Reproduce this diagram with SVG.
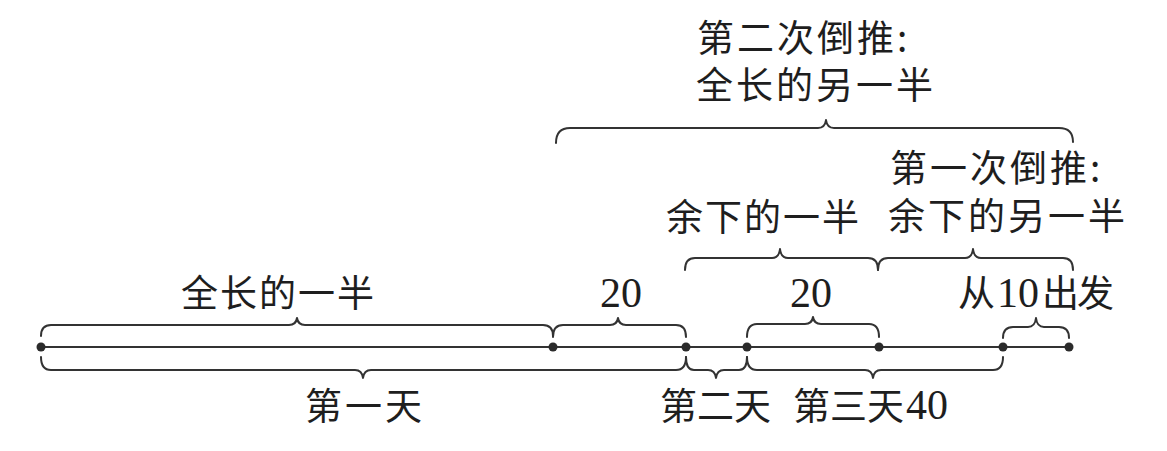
<svg xmlns="http://www.w3.org/2000/svg" width="1167" height="451" viewBox="0 0 1167 451">
<style>
.bg{fill:#ffffff}
.brace{fill:none;stroke:#333;stroke-width:2;stroke-linecap:round;stroke-linejoin:round}
.axis{stroke:#333;stroke-width:2}
.dot{fill:#2b2b2b}
.cjk{font-family:"Noto Sans CJK SC","Noto Sans",sans-serif;font-size:37px;fill:#1e1e1e;letter-spacing:3px}
.num{font-family:"Liberation Serif",serif;font-size:42px;fill:#1e1e1e;letter-spacing:0}
</style>
<rect class="bg" x="0" y="0" width="1167" height="451"/>
<g id="connectors">
<line class="axis" x1="41" y1="347" x2="1069" y2="347"/>
<path id="brace-half" class="brace" d="M41 336 Q41 325 51 325 L289 325 Q296 325 297 318 Q298 325 305 325 L543 325 Q553 325 553 336"/>
<path id="brace-20a" class="brace" d="M553 337 Q553 325 563 325 L610 325 Q617 325 618 318 Q619 325 626 325 L676 325 Q686 325 686 337"/>
<path id="brace-20b" class="brace" d="M747 337 Q747 324 757 324 L805 324 Q812 324 813 317 Q814 324 821 324 L869 324 Q879 324 879 337"/>
<path id="brace-10" class="brace" d="M1003 338 Q1003 327 1013 327 L1028 327 Q1035 327 1036 318 Q1037 327 1044 327 L1059 327 Q1069 327 1069 338"/>
<path id="brace-day1" class="brace" d="M41 357 Q41 370 51 370 L355 370 Q362 370 363 378 Q364 370 371 370 L676 370 Q686 370 686 357"/>
<path id="brace-day2" class="brace" d="M686 357 Q686 370 694 370 L708 370 Q715 370 716 378 Q717 370 724 370 L739 370 Q747 370 747 357"/>
<path id="brace-day3" class="brace" d="M747 357 Q747 370 757 370 L865 370 Q872 370 873 378 Q874 370 881 370 L993 370 Q1003 370 1003 357"/>
<path id="brace-rest1" class="brace" d="M685 270 Q685 258 695 258 L772 258 Q779 258 780 249 Q781 258 788 258 L868 258 Q878 258 878 270"/>
<path id="brace-rest2" class="brace" d="M878 270 Q878 258 888 258 L965 258 Q972 258 973 249 Q974 258 981 258 L1063 258 Q1073 258 1073 270"/>
<path id="brace-other" class="brace" d="M556 143 Q556 128 570 128 L818 128 Q825 128 826 120 Q827 128 834 128 L1059 128 Q1073 128 1073 142"/>
</g>
<g id="points">
<circle class="dot" cx="41" cy="347" r="4.5"/>
<circle class="dot" cx="553" cy="347" r="4.5"/>
<circle class="dot" cx="686" cy="347" r="4.5"/>
<circle class="dot" cx="747" cy="347" r="4.5"/>
<circle class="dot" cx="879" cy="347" r="4.5"/>
<circle class="dot" cx="1003" cy="347" r="4.5"/>
<circle class="dot" cx="1069" cy="347" r="4.5"/>
</g>
<g id="label-second-back">
<text class="cjk"><tspan x="697" y="52">第二次倒推:</tspan><tspan x="696" y="99">全长的另一半</tspan></text>
</g>
<g id="label-first-back">
<text class="cjk"><tspan x="890" y="182">第一次倒推:</tspan><tspan x="888" y="230">余下的另一半</tspan></text>
</g>
<g id="label-rest-half">
<text class="cjk" x="666" y="231" style="letter-spacing:2px">余下的一半</text>
</g>
<g id="label-half">
<text class="cjk" x="181" y="307" style="letter-spacing:2px">全长的一半</text>
</g>
<g id="label-20a"><text class="num" x="600" y="307">20</text></g>
<g id="label-20b"><text class="num" x="790" y="307">20</text></g>
<g id="label-from10">
<text class="cjk" x="958" y="307" style="letter-spacing:0">从</text>
<text class="num" x="997" y="307">10</text>
<text class="cjk" x="1042" y="307" style="letter-spacing:0">出</text>
<text class="cjk" x="1077" y="307" style="letter-spacing:0">发</text>
</g>
<g id="label-day1"><text class="cjk" x="305" y="420" style="letter-spacing:3px">第一天</text></g>
<g id="label-day2"><text class="cjk" x="660" y="420" style="letter-spacing:0">第二天</text></g>
<g id="label-day3">
<text class="cjk" x="793" y="420" style="letter-spacing:0">第三天</text>
<text class="num" x="906" y="419">40</text>
</g>
</svg>
